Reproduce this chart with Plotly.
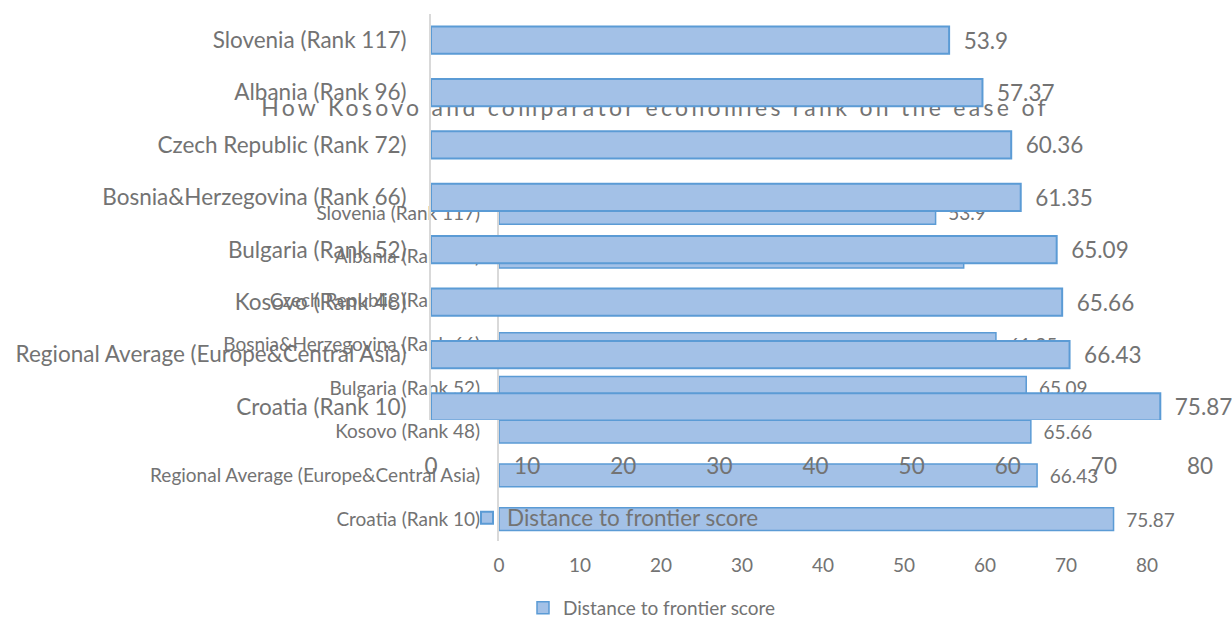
import plotly.graph_objects as go

# ---- data (top-to-bottom order as shown) ----
countries = [
    "Slovenia (Rank 117)",
    "Albania (Rank 96)",
    "Czech Republic (Rank 72)",
    "Bosnia&Herzegovina (Rank 66)",
    "Bulgaria (Rank 52)",
    "Kosovo (Rank 48)",
    "Regional Average (Europe&Central Asia)",
    "Croatia (Rank 10)",
]
scores = [53.9, 57.37, 60.36, 61.35, 65.09, 65.66, 66.43, 75.87]
series_name = "Distance to frontier score"
x_ticks = [0, 10, 20, 30, 40, 50, 60, 70, 80]
title_text = "How Kosovo and comparator economies rank on the ease of"

# plotly puts the first category at the bottom
cats_bottom_up = countries[::-1]
vals_bottom_up = scores[::-1]

W, H = 1232, 619
FONT = "Lato"
GREY = "#737373"
FILL = "#a3c1e7"
EDGE = "#5b9bd5"
F_FRONT = 22.5
F_BACK = 19


def fx(px):
    return px / W


def fy(py):
    return 1 - py / H


NB = "\u00a0\u00a0"

fig = go.Figure()

# layer 1: title of the back chart (drawn first, so it sits behind the front bars)
fig.add_trace(go.Scatter(
    x=[655], y=[110], mode="text",
    text=[f'<span style="letter-spacing:3.3px">{title_text}</span>'],
    textfont=dict(family=FONT, size=23, color=GREY),
    textposition="middle center",
    xaxis="x", yaxis="y", showlegend=False, hoverinfo="skip",
))

# layer 2: back (smaller) chart
fig.add_trace(go.Bar(
    x=vals_bottom_up, y=cats_bottom_up, orientation="h",
    name=series_name,
    marker=dict(color=FILL, line=dict(color=EDGE, width=1.5)),
    text=[str(v) for v in vals_bottom_up],
    texttemplate=NB + "%{text}",
    textposition="outside", cliponaxis=False, constraintext="none",
    outsidetextfont=dict(family=FONT, size=F_BACK, color=GREY),
    xaxis="x2", yaxis="y2", legend="legend", hoverinfo="skip",
))

# layer 3: front (larger) chart
fig.add_trace(go.Bar(
    x=vals_bottom_up, y=cats_bottom_up, orientation="h",
    name=series_name,
    marker=dict(color=FILL, line=dict(color=EDGE, width=2)),
    text=[str(v) for v in vals_bottom_up],
    texttemplate=NB + "%{text}",
    textposition="outside", cliponaxis=False, constraintext="none",
    outsidetextfont=dict(family=FONT, size=F_FRONT, color=GREY),
    xaxis="x3", yaxis="y3", legend="legend2", hoverinfo="skip",
))

hidden = dict(visible=False, showgrid=False, zeroline=False,
              fixedrange=True, automargin=False)

fig.update_layout(
    width=W, height=H,
    margin=dict(l=0, r=0, t=0, b=0, autoexpand=False),
    paper_bgcolor="white", plot_bgcolor="rgba(0,0,0,0)",
    font=dict(family=FONT, color=GREY),
    bargap=0.48,
    showlegend=True,
    xaxis=dict(domain=[0, 1], range=[0, W], **hidden),
    yaxis=dict(domain=[0, 1], range=[H, 0], **hidden),
    # back chart axes
    xaxis2=dict(
        domain=[fx(499), fx(1147)], range=[0, 80], anchor="y2",
        tickvals=x_ticks, showgrid=False, zeroline=False, showline=False,
        tickfont=dict(family=FONT, size=F_BACK, color=GREY),
        ticklabelstandoff=11, fixedrange=True, automargin=False,
    ),
    yaxis2=dict(
        domain=[fy(541), fy(191)], range=[-0.5, 7.5], anchor="x2",
        type="category", categoryorder="array", categoryarray=cats_bottom_up,
        showgrid=False, zeroline=False, showline=True,
        linecolor="#d9d9d9", linewidth=2,
        tickfont=dict(family=FONT, size=F_BACK, color=GREY),
        ticklabelstandoff=13, fixedrange=True, automargin=False,
    ),
    # front chart axes
    xaxis3=dict(
        domain=[fx(431), fx(1200)], range=[0, 80], anchor="y3",
        tickvals=x_ticks, showgrid=False, zeroline=False, showline=False,
        tickfont=dict(family=FONT, size=F_FRONT, color=GREY),
        ticklabelstandoff=30, fixedrange=True, automargin=False,
    ),
    yaxis3=dict(
        domain=[fy(420), fy(14)], range=[-0.25, 7.5], anchor="x3",
        type="category", categoryorder="array", categoryarray=cats_bottom_up,
        showgrid=False, zeroline=False, showline=True,
        linecolor="#d9d9d9", linewidth=2,
        tickfont=dict(family=FONT, size=F_FRONT, color=GREY),
        ticklabelstandoff=18, fixedrange=True, automargin=False,
    ),
    legend=dict(
        x=fx(523), y=fy(608), xanchor="left", yanchor="middle",
        bgcolor="rgba(0,0,0,0)", borderwidth=0,
        font=dict(family=FONT, size=F_BACK, color=GREY),
    ),
    legend2=dict(
        x=fx(467), y=fy(518), xanchor="left", yanchor="middle",
        bgcolor="rgba(0,0,0,0)", borderwidth=0,
        font=dict(family=FONT, size=F_FRONT, color=GREY),
    ),
)

fig.write_html(
    "out.html",
    config={"displayModeBar": False},
    post_script="document.body.style.margin='0';document.body.style.overflow='hidden';",
)
